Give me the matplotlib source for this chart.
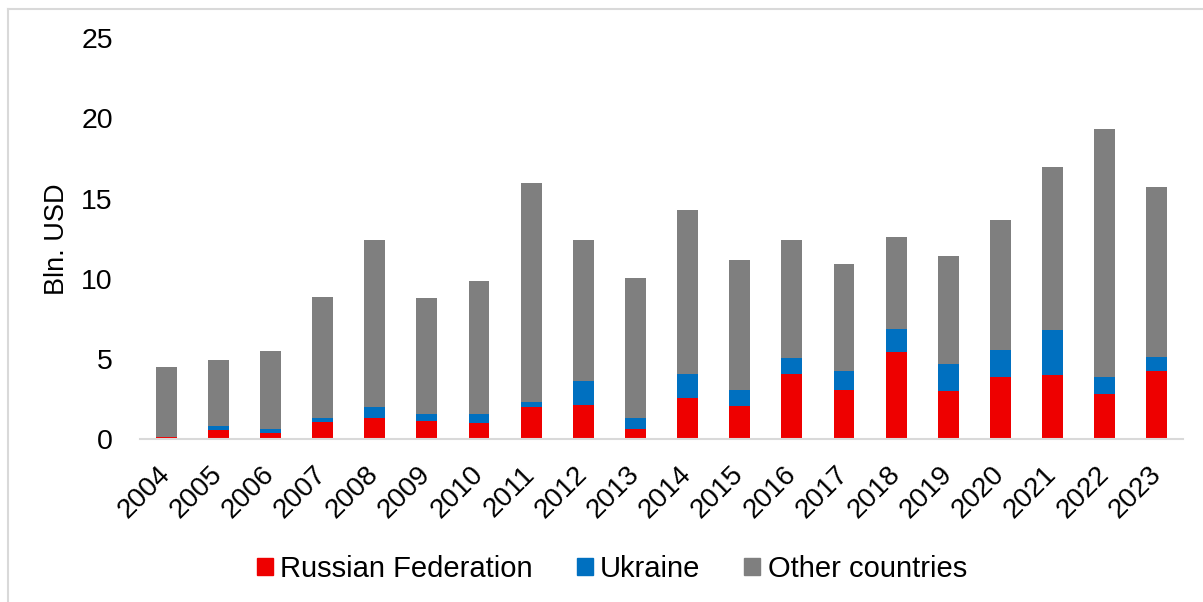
import matplotlib
matplotlib.use("Agg")
import matplotlib.pyplot as plt
from matplotlib.lines import Line2D
import numpy as np

years = ["2004", "2005", "2006", "2007", "2008", "2009", "2010", "2011", "2012", "2013",
         "2014", "2015", "2016", "2017", "2018", "2019", "2020", "2021", "2022", "2023"]
russia = [0.15, 0.60, 0.37, 1.05, 1.35, 1.15, 1.00, 2.00, 2.15, 0.65,
          2.60, 2.10, 4.05, 3.10, 5.45, 3.00, 3.90, 4.00, 2.85, 4.25]
ukraine = [0.02, 0.25, 0.30, 0.25, 0.65, 0.45, 0.60, 0.33, 1.47, 0.70,
           1.50, 1.00, 1.00, 1.15, 1.45, 1.70, 1.65, 2.80, 1.05, 0.90]
totals = [4.50, 4.95, 5.50, 8.90, 12.45, 8.80, 9.90, 16.00, 12.40, 10.05,
          14.30, 11.20, 12.40, 10.95, 12.60, 11.40, 13.65, 17.00, 19.35, 15.70]
other = [t - r - u for t, r, u in zip(totals, russia, ukraine)]
series_names = ["Russian Federation", "Ukraine", "Other countries"]
yticks = [0, 5, 10, 15, 20, 25]

colors = ["#EE0000", "#0070C0", "#7F7F7F"]

plt.rcParams['font.family'] = ['Liberation Sans', 'DejaVu Sans']

W, H = 1203, 602
fig = plt.figure(figsize=(W / 100, H / 100), dpi=100)
ax = fig.add_axes([140 / W, 1 - 439.3 / H, (1183 - 140) / W, (439.3 - 38.3) / H])

x = np.arange(len(years))
bw = 0.4
r = np.array(russia)
u = np.array(ukraine)
o = np.array(other)
ax.bar(x, r, bw, color=colors[0], label=series_names[0])
ax.bar(x, u, bw, bottom=r, color=colors[1], label=series_names[1])
ax.bar(x, o, bw, bottom=r + u, color=colors[2], label=series_names[2])

ax.set_xlim(-0.5, len(years) - 0.5)
ax.set_ylim(0, 25)
ax.set_yticks(yticks)
ax.set_yticklabels([str(v) for v in yticks], fontsize=20.5)
ax.set_xticks(x)
ax.set_xticklabels(years, fontsize=20, rotation=45, ha='right', va='center',
                   rotation_mode='anchor')
ax.tick_params(axis='both', length=0)
ax.tick_params(axis='y', pad=19.5)
ax.tick_params(axis='x', pad=22.5)
for s in ['top', 'right', 'left']:
    ax.spines[s].set_visible(False)
ax.spines['bottom'].set_color('#D9D9D9')
ax.spines['bottom'].set_linewidth(1.5)

ax.set_ylabel("Bln. USD", fontsize=19.5)
ax.yaxis.set_label_coords(-70 / (1183 - 140), 0.5)

handles = [plt.Rectangle((0, 0), 1, 1, color=c) for c in colors]
fig.legend(handles, series_names, loc='center', bbox_to_anchor=(612 / W, 1 - 569 / H),
           ncol=3, frameon=False, fontsize=21, handlelength=0.55, handleheight=0.55,
           handletextpad=0.25, columnspacing=1.5)

# light frame
fig.add_artist(Line2D([8 / W, 1.0], [1 - 8.5 / H, 1 - 8.5 / H], color='#D9D9D9', lw=1.5,
                      transform=fig.transFigure))
fig.add_artist(Line2D([8 / W, 8 / W], [0, 1 - 8.5 / H], color='#D9D9D9', lw=1.5,
                      transform=fig.transFigure))

fig.savefig("out.png", dpi=100)
